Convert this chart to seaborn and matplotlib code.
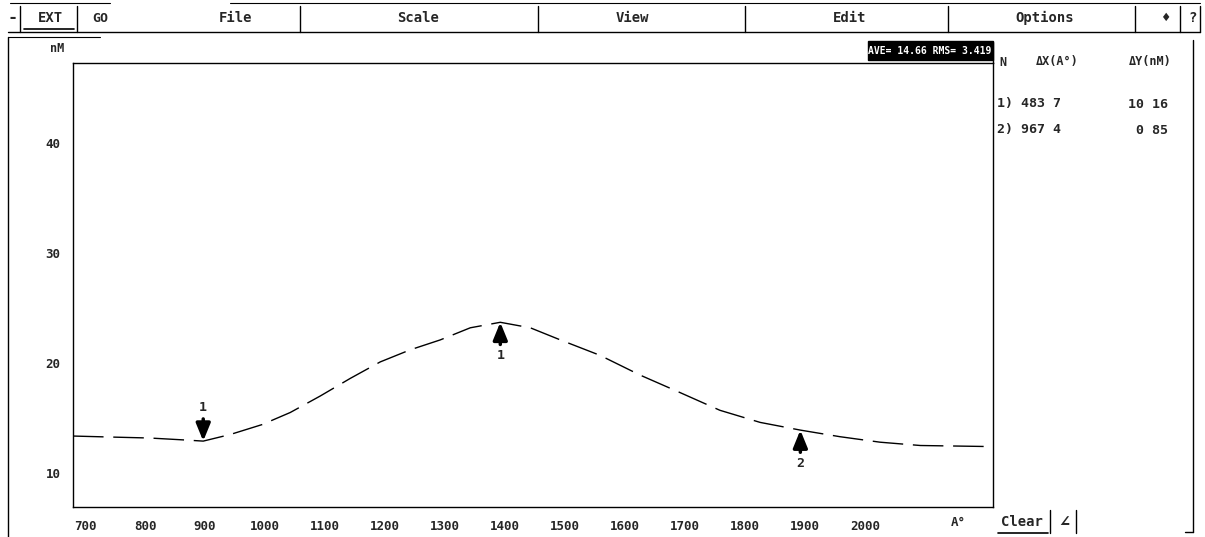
import matplotlib.pyplot as plt
import seaborn as sns
from matplotlib.lines import Line2D
from matplotlib.patches import Rectangle

# profile trace (x in A°, y in nM)
x_pos = [680, 742, 808, 867, 897, 942, 995, 1042, 1092, 1142, 1192, 1242,
         1292, 1342, 1392, 1442, 1492, 1558, 1625, 1692, 1758, 1825, 1892,
         1958, 2025, 2092, 2213]
height = [13.36, 13.27, 13.18, 13.0, 12.9, 13.5, 14.4, 15.5, 17.0, 18.6,
          20.1, 21.2, 22.1, 23.2, 23.7, 23.2, 22.1, 20.7, 18.9, 17.3, 15.7,
          14.6, 13.9, 13.3, 12.8, 12.5, 12.4]

# cursors: (x, y, label, direction)
cursor_x = [897, 1392, 1892]
cursor_y = [12.9, 23.7, 13.9]
cursor_lab = ["1", "1", "2"]
cursor_dir = ["down", "up", "up"]

x_ticks = [700, 800, 900, 1000, 1100, 1200, 1300, 1400, 1500, 1600, 1700,
           1800, 1900, 2000]
y_ticks = [10, 20, 30, 40]

menu_items = ["File", "Scale", "View", "Edit", "Options"]
menu_x = [236, 418, 632, 850, 1045]
menu_sep = [20, 77, 300, 538, 745, 948, 1135, 1180, 1200]

table_rows = [("1) 483 7", "10 16"), ("2) 967 4", "0 85")]

W, H = 1205, 537


def fx(x):
    return x / W


def fy(y):
    return 1 - y / H


sns.set_theme(style="white")
plt.rcParams['font.family'] = ['DejaVu Sans Mono', 'DejaVu Sans']
plt.rcParams['font.weight'] = 'bold'

fig = plt.figure(figsize=(W / 100, H / 100), dpi=100)
fig.patch.set_facecolor("white")

ax = fig.add_axes([fx(73), fy(507), fx(993) - fx(73), fy(63) - fy(507)])
sns.lineplot(x=x_pos, y=height, ax=ax, color="black", linewidth=1.0,
             linestyle=(0, (22, 7)))

ax.set_xlim(680, 2213)
ax.set_ylim(6.91, 47.27)
ax.set_xticks(x_ticks)
ax.set_yticks(y_ticks)
ax.tick_params(length=0, labelsize=9, pad=9)
for lab in ax.get_xticklabels() + ax.get_yticklabels():
    lab.set_fontweight('bold')
ax.set_xlabel("")
ax.set_ylabel("")
for side in ["top", "right", "left", "bottom"]:
    ax.spines[side].set_color("black")
    ax.spines[side].set_linewidth(1.0)
ax.grid(False)

for cx, cy, lab, d in zip(cursor_x, cursor_y, cursor_lab, cursor_dir):
    off = 24 if d == "down" else -24
    ax.annotate(lab, xy=(cx, cy), xytext=(0, off), textcoords="offset points",
                ha="center", va="center", fontsize=9.5, fontweight="bold",
                arrowprops=dict(arrowstyle="-|>,head_length=1.1,head_width=0.45",
                                color="black", lw=2.5, shrinkA=1, shrinkB=0))


# window chrome
def hline(y, x0, x1, lw=1.0):
    fig.add_artist(Line2D([fx(x0), fx(x1)], [fy(y), fy(y)], color="black", lw=lw))


def vline(x, y0, y1, lw=1.0):
    fig.add_artist(Line2D([fx(x), fx(x)], [fy(y0), fy(y1)], color="black", lw=lw))


hline(3, 230, 1200, 0.8)
hline(3, 10, 110, 0.8)
hline(32, 8, 1200, 1.0)
hline(37, 8, 100, 0.8)
vline(8, 37, 537)
vline(993, 42, 63)
vline(1193, 40, 532)
hline(532, 1185, 1193)
for s in menu_sep:
    vline(s, 6, 32)
hline(29, 24, 74, 1.2)

fig.text(fx(12), fy(18), "-", fontsize=12, fontweight="bold", ha="center", va="center")
fig.text(fx(50), fy(18), "EXT", fontsize=10, fontweight="bold", ha="center", va="center")
fig.text(fx(100), fy(18), "GO", fontsize=9.5, ha="center", va="center")
for name, mx in zip(menu_items, menu_x):
    fig.text(fx(mx), fy(18), name, fontsize=10, ha="center", va="center")
fig.text(fx(1165), fy(18), "♦", fontsize=10, ha="center", va="center")
fig.text(fx(1193), fy(18), "?", fontsize=10, ha="center", va="center")

# stats box
fig.add_artist(Rectangle((fx(868), fy(60)), fx(993) - fx(868), fy(41) - fy(60),
                         facecolor="black", edgecolor="black"))
fig.text(fx(991), fy(50.5), "AVE= 14.66 RMS= 3.419", color="white",
         fontsize=7.0, fontweight="bold", ha="right", va="center")

fig.text(fx(57), fy(49), "nM", fontsize=8.5, ha="center", va="center")
fig.text(fx(958), fy(522), "A°", fontsize=9, ha="center", va="center")
fig.text(fx(1022), fy(522), "Clear", fontsize=10, ha="center", va="center")
hline(533, 998, 1048, 1.2)
vline(1050, 510, 533)
fig.text(fx(1064), fy(522), "∠", fontsize=12, ha="center", va="center")
vline(1076, 510, 533)

# cursor table
fig.text(fx(1003), fy(62), "N", fontsize=8.5, ha="center", va="center")
fig.text(fx(1057), fy(62), "ΔX(A°)", fontsize=8.5, ha="center", va="center")
fig.text(fx(1150), fy(62), "ΔY(nM)", fontsize=8.5, ha="center", va="center")
for i, (a, b) in enumerate(table_rows):
    yy = 104 + 26 * i
    fig.text(fx(997), fy(yy), a, fontsize=9.5, ha="left", va="center")
    fig.text(fx(1168), fy(yy), b, fontsize=9.5, ha="right", va="center")

fig.savefig("out.png", dpi=100)
plt.close()
